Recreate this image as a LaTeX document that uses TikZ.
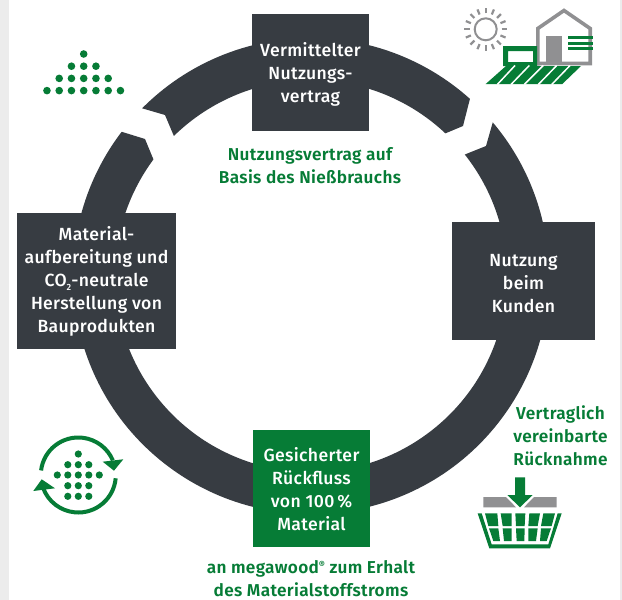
\documentclass[tikz,border=0pt]{standalone}
\usepackage{fontspec}
\setmainfont{Fira Sans}[UprightFont={* Medium},BoldFont={* SemiBold},LetterSpace=2]
\definecolor{dark}{HTML}{373C42}
\definecolor{mwgreen}{HTML}{067C36}
\definecolor{icongray}{HTML}{909092}
\definecolor{strip}{HTML}{ECECEC}
\tikzset{
  box/.style={inner sep=0pt,outer sep=0pt,text=white,align=center,font=\fontsize{17.6}{23}\selectfont},
  darkbox/.style={box,fill=dark},
  greenbox/.style={box,fill=mwgreen},
  caption/.style={inner sep=0pt,text=mwgreen,align=center,font=\fontsize{17.2}{23}\selectfont\bfseries},
  dot/.style={fill=mwgreen},
  ring/.style={fill=dark}
}
\newcommand{\cyc}{(311,276)}
\newcommand{\tl}[1]{\rule{0pt}{#1pt}}
\begin{document}
\begin{tikzpicture}[x=1pt,y=-1pt]
\useasboundingbox (0,0) rectangle (622,600);
\fill[white] (0,0) rectangle (622,600);
\fill[strip] (0,0) rectangle (9,600);
\fill[strip] (620,0) rectangle (622,600);
% ring segments
\fill[ring] ([shift={\cyc}]270:238) arc[start angle=270,end angle=224.8,radius=238] -- (165,115) -- ([shift={\cyc}]225.6:196) arc[start angle=225.6,end angle=270,radius=196] -- cycle;
\fill[ring] ([shift={\cyc}]217.3:238) arc[start angle=217.3,end angle=-40.2,radius=238] -- (486,146) -- ([shift={\cyc}]-38.3:196) arc[start angle=-38.3,end angle=216.5,radius=196] -- (145,139) -- cycle;
\fill[ring] ([shift={\cyc}]270:238) arc[start angle=270,end angle=311.9,radius=238] -- (463,126) -- ([shift={\cyc}]313.3:196) arc[start angle=313.3,end angle=270,radius=196] -- cycle;
% boxes
\node[darkbox,minimum width=117pt,minimum height=117pt] (top) at (310.5,72.5) {\tl{17}Vermittelter\\Nutzungs-\\vertrag};
\node[darkbox,minimum width=159pt,minimum height=136pt] (left) at (96.5,281) {\tl{15}Material-\\aufbereitung und\\CO\raisebox{-0.4ex}{\fontsize{9}{9}\selectfont 2}-neutrale\\Herstellung von\\Bauprodukten};
\node[darkbox,minimum width=143pt,minimum height=118pt] (right) at (523.5,281) {\tl{17}Nutzung\\beim\\Kunden};
\node[greenbox,minimum width=117pt,minimum height=117pt] (bottom) at (311.5,488.5) {\tl{16}Gesicherter\\Rückfluss\\von 100\,\%\\Material};
% captions
\node[caption] (c1) at (310,165.5) {Nutzungsvertrag auf\\Basis des Nießbrauchs};
\node[caption] (c2) at (560.5,435.5) {Vertraglich\\vereinbarte\\Rücknahme};
\node[caption] (c3) at (311,579) {an megawood\raisebox{0.6ex}{\fontsize{9.5}{9.5}\selectfont ®} zum Erhalt\\des Materialstoffstroms};
% dot triangle
\foreach \r/\n in {0/0,1/1,2/2,3/3}
  \foreach \i in {-\n,...,\n}
    \fill[dot] ({83.7+12.25*\i},{54+12.2*\r}) circle[radius=3.8];
% sun
\draw[icongray,line width=2] (485.7,29.3) circle[radius=11];
\foreach \a in {0,22.5,...,337.5}
  \draw[icongray,line width=2.2] ([shift={(485.7,29.3)}]\a:16) -- ([shift={(485.7,29.3)}]\a:21.5);
% house
\draw[icongray,line width=3.6,miter limit=4] (537.8,65.5) -- (537.8,28.5) -- (564,10.5) -- (590.2,28.5) -- (590.2,63.5) -- (536,63.5);
\fill[icongray] (546,36) rectangle (562,63);
\fill[mwgreen] (568,36.2) rectangle (593,39.2);
\fill[mwgreen] (568,41.8) rectangle (593,44.8);
\fill[mwgreen] (568,46.8) rectangle (593,49.8);
\fill[mwgreen,even odd rule] (503,46) rectangle (537,66) (508,51) rectangle (533,62);
\fill[mwgreen] (485.7,84) -- (506,66) -- (581,66) -- (562.3,84) -- cycle;
\foreach \p/\q in {497.3/515,511/529.3,524.3/543.3,538.3/556.7,551.7/570}
  \draw[white,line width=1.5] (\p,84.5) -- (\q,65.5);
% recycling icon
\draw[mwgreen,line width=4] ([shift={(78.3,475)}]187:37.5) arc[start angle=187,end angle=337,radius=37.5];
\draw[mwgreen,line width=4] ([shift={(78.3,475)}]5:37.5) arc[start angle=5,end angle=160,radius=37.5];
\fill[mwgreen] (102.7,461.7) -- (123.3,459.3) -- (114,470.7) -- cycle;
\fill[mwgreen] (41.7,479.3) -- (33.3,491) -- (55,488.3) -- cycle;
\foreach \y/\n in {454/0,464.7/1,475/2,485.7/1,496.3/1}
  \foreach \i in {-\n,...,\n}
    \fill[dot] ({78.3+10.5*\i},\y) circle[radius=3.6];
% basket
\begin{scope}[shift={(460,400)},x=0.33333pt,y=-0.33333pt]
\fill[icongray] (70,291) -- (138,291) -- (168,322) -- (70,322) -- cycle;
\fill[icongray] (222,291) -- (290,291) -- (290,322) -- (192,322) -- cycle;
\fill[mwgreen] (165,232) -- (195,232) -- (195,285) -- (218,285) -- (180,322) -- (142,285) -- (165,285) -- cycle;
\fill[mwgreen] (53,340) -- (65,340) -- (95,433) -- (265,433) -- (293,340) -- (305,340) -- (270,445) -- (88,445) -- cycle;
\fill[mwgreen] (75,340) -- (112,340) -- (115,378) -- (85,378) -- cycle;
\fill[mwgreen] (122,340) -- (155,340) -- (155,378) -- (128,378) -- cycle;
\fill[mwgreen] (166,340) -- (196,340) -- (194,378) -- (168,378) -- cycle;
\fill[mwgreen] (208,340) -- (240,340) -- (233,378) -- (205,378) -- cycle;
\fill[mwgreen] (250,340) -- (285,340) -- (275,378) -- (243,378) -- cycle;
\fill[mwgreen] (87,385) -- (115,385) -- (120,423) -- (100,423) -- cycle;
\fill[mwgreen] (128,385) -- (155,385) -- (155,423) -- (132,423) -- cycle;
\fill[mwgreen] (168,385) -- (194,385) -- (193,423) -- (170,423) -- cycle;
\fill[mwgreen] (205,385) -- (233,385) -- (228,423) -- (205,423) -- cycle;
\fill[mwgreen] (243,385) -- (273,385) -- (260,423) -- (240,423) -- cycle;
\end{scope}
\end{tikzpicture}
\end{document}
